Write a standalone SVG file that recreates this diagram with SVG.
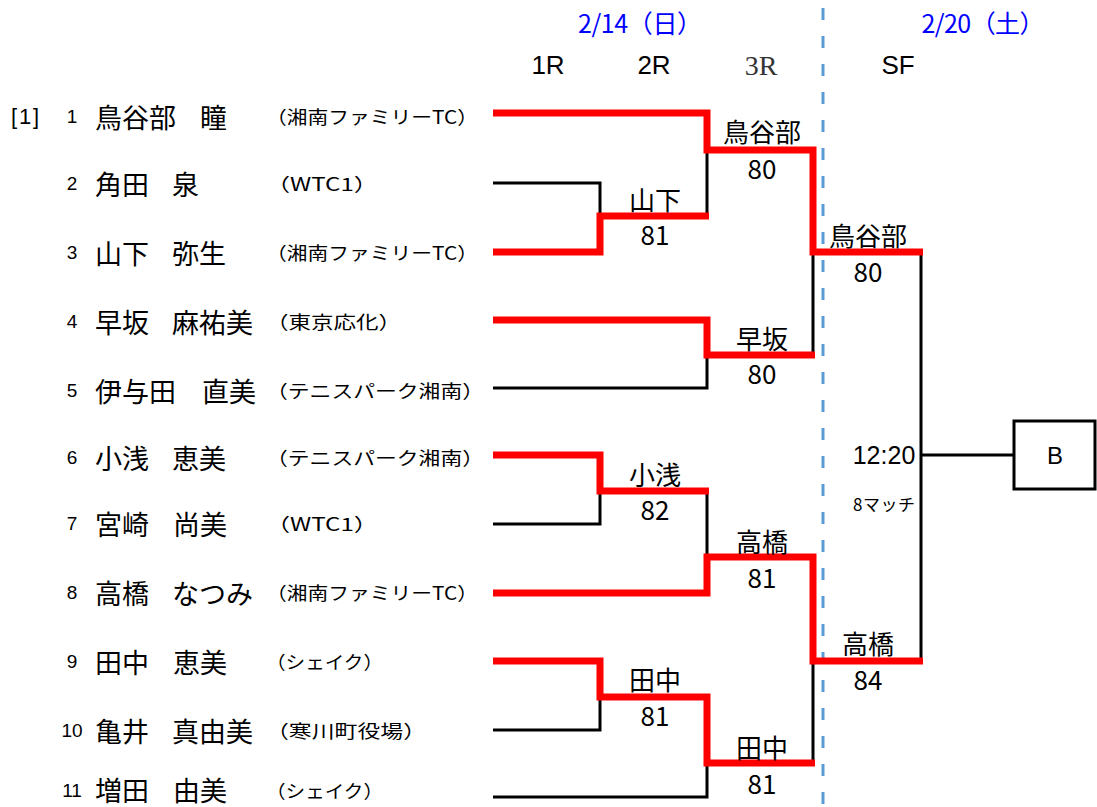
<svg xmlns="http://www.w3.org/2000/svg" width="1097" height="807" viewBox="0 0 1097 807">
<style>
text{dominant-baseline:central;}
.jp{font-family:"Noto Sans CJK JP","Noto Sans",sans-serif;fill:#000;}
.nm{font-size:27px;}
.club{font-size:18px;}
.num{font-family:"Liberation Sans",Arial,sans-serif;font-size:19px;text-anchor:middle;}
.lbl{font-family:"Noto Sans CJK JP",sans-serif;font-size:26px;text-anchor:middle;}
.hdr{font-family:"Liberation Sans",Arial,sans-serif;font-size:26px;text-anchor:middle;}
.date{font-family:"Noto Sans CJK JP",sans-serif;font-size:25px;fill:#0000ff;text-anchor:middle;}
.blk{fill:none;stroke:#000;stroke-width:3;}
.red{fill:none;stroke:#ff0000;stroke-width:7;stroke-linejoin:miter;}
</style>
<rect width="1097" height="807" fill="#fff"/>
<g id="header">
<text class="date" x="640" y="22" textLength="124">2/14（日）</text>
<text class="date" x="983" y="22" textLength="123">2/20（土）</text>
<text class="hdr" x="548" y="65">1R</text>
<text class="hdr" x="654" y="65">2R</text>
<text x="761" y="65" style="font-family:'Liberation Serif',serif;font-size:28px;fill:#333;text-anchor:middle;">3R</text>
<text class="hdr" x="898" y="65">SF</text>
</g>
<g id="divider">
<line x1="823" y1="8" x2="823" y2="807" stroke="#5b9bd5" stroke-width="3" stroke-dasharray="12 16"/>
</g>
<g id="p1"><text x="11" y="116" style="font-family:'Liberation Sans',sans-serif;font-size:22px;" textLength="28">[1]</text><text class="num" x="72" y="116">1</text><text class="jp nm" x="95" y="116">鳥谷部</text><text class="jp nm" x="200" y="116">瞳</text><text class="jp club" x="266" y="116" textLength="212" lengthAdjust="spacingAndGlyphs">（湘南ファミリーTC）</text></g>
<g id="p2"><text class="num" x="72" y="183">2</text><text class="jp nm" x="95" y="183">角田</text><text class="jp nm" x="172" y="183">泉</text><text class="jp club" x="266" y="183" textLength="112" lengthAdjust="spacingAndGlyphs">（WTC1）</text></g>
<g id="p3"><text class="num" x="72" y="252">3</text><text class="jp nm" x="95" y="252">山下</text><text class="jp nm" x="172" y="252">弥生</text><text class="jp club" x="266" y="252" textLength="212" lengthAdjust="spacingAndGlyphs">（湘南ファミリーTC）</text></g>
<g id="p4"><text class="num" x="72" y="321">4</text><text class="jp nm" x="95" y="321">早坂</text><text class="jp nm" x="172" y="321">麻祐美</text><text class="jp club" x="266" y="321" textLength="135" lengthAdjust="spacingAndGlyphs">（東京応化）</text></g>
<g id="p5"><text class="num" x="72" y="390">5</text><text class="jp nm" x="95" y="390">伊与田</text><text class="jp nm" x="202" y="390">直美</text><text class="jp club" x="266" y="390" textLength="218" lengthAdjust="spacingAndGlyphs">（テニスパーク湘南）</text></g>
<g id="p6"><text class="num" x="72" y="457">6</text><text class="jp nm" x="95" y="457">小浅</text><text class="jp nm" x="172" y="457">恵美</text><text class="jp club" x="266" y="457" textLength="218" lengthAdjust="spacingAndGlyphs">（テニスパーク湘南）</text></g>
<g id="p7"><text class="num" x="72" y="523">7</text><text class="jp nm" x="95" y="523">宮崎</text><text class="jp nm" x="173" y="523">尚美</text><text class="jp club" x="266" y="523" textLength="112" lengthAdjust="spacingAndGlyphs">（WTC1）</text></g>
<g id="p8"><text class="num" x="72" y="592">8</text><text class="jp nm" x="95" y="592">高橋</text><text class="jp nm" x="172" y="592">なつみ</text><text class="jp club" x="266" y="592" textLength="212" lengthAdjust="spacingAndGlyphs">（湘南ファミリーTC）</text></g>
<g id="p9"><text class="num" x="72" y="661">9</text><text class="jp nm" x="95" y="661">田中</text><text class="jp nm" x="173" y="661">恵美</text><text class="jp club" x="266" y="661" textLength="117" lengthAdjust="spacingAndGlyphs">（シェイク）</text></g>
<g id="p10"><text class="num" x="72" y="730">10</text><text class="jp nm" x="95" y="730">亀井</text><text class="jp nm" x="172" y="730">真由美</text><text class="jp club" x="266" y="730" textLength="160" lengthAdjust="spacingAndGlyphs">（寒川町役場）</text></g>
<g id="p11"><text class="num" x="72" y="790">11</text><text class="jp nm" x="95" y="789">増田</text><text class="jp nm" x="173" y="789">由美</text><text class="jp club" x="266" y="790" textLength="117" lengthAdjust="spacingAndGlyphs">（シェイク）</text></g>
<g id="connectors">
<path class="blk" d="M493,183 H600 V216"/>
<path class="blk" d="M707,150 V216"/>
<path class="blk" d="M493,388 H707 V355"/>
<path class="blk" d="M813,252 V355"/>
<path class="blk" d="M493,524 H600 V491"/>
<path class="blk" d="M707,491 V557"/>
<path class="blk" d="M493,730 H600 V697"/>
<path class="blk" d="M493,797 H707 V763"/>
<path class="blk" d="M813,661 V763"/>
<path class="blk" d="M921,252 V661"/>
<path class="blk" d="M921,455 H1014"/>
<path class="red" d="M493,113 H707 V150 H813 V252 H923"/>
<path class="red" d="M493,252 H600 V216 H709"/>
<path class="red" d="M493,320 H707 V355 H815"/>
<path class="red" d="M493,455 H600 V491 H709"/>
<path class="red" d="M493,593 H707 V557 H813 V661 H923"/>
<path class="red" d="M493,661 H600 V697 H707 V763 H815"/>
</g>
<g id="m-r3-1"><text class="lbl" x="762" y="130">鳥谷部</text><text class="lbl" x="762" y="167">80</text></g>
<g id="m-r2-1"><text class="lbl" x="655" y="198">山下</text><text class="lbl" x="655" y="233">81</text></g>
<g id="m-sf-1"><text class="lbl" x="868" y="234">鳥谷部</text><text class="lbl" x="868" y="270">80</text></g>
<g id="m-r3-2"><text class="lbl" x="762" y="337">早坂</text><text class="lbl" x="762" y="372">80</text></g>
<g id="m-r2-2"><text class="lbl" x="655" y="473">小浅</text><text class="lbl" x="655" y="508">82</text></g>
<g id="m-r3-3"><text class="lbl" x="762" y="540">高橋</text><text class="lbl" x="762" y="576">81</text></g>
<g id="m-sf-2"><text class="lbl" x="868" y="642">高橋</text><text class="lbl" x="868" y="678">84</text></g>
<g id="m-r2-3"><text class="lbl" x="655" y="678">田中</text><text class="lbl" x="655" y="714">81</text></g>
<g id="m-r3-4"><text class="lbl" x="762" y="746">田中</text><text class="lbl" x="762" y="782">81</text></g>
<g id="final-time"><text x="884" y="455" style="font-family:'Liberation Sans',sans-serif;font-size:25px;text-anchor:middle;">12:20</text><text class="jp" x="884" y="503" style="font-size:17px;text-anchor:middle;" textLength="62">8マッチ</text></g>
<g id="box-b"><rect x="1014" y="421" width="81" height="68" fill="#fff" stroke="#000" stroke-width="3"/><text x="1055" y="455" style="font-family:'Liberation Sans',sans-serif;font-size:24px;text-anchor:middle;">B</text></g>
</svg>
